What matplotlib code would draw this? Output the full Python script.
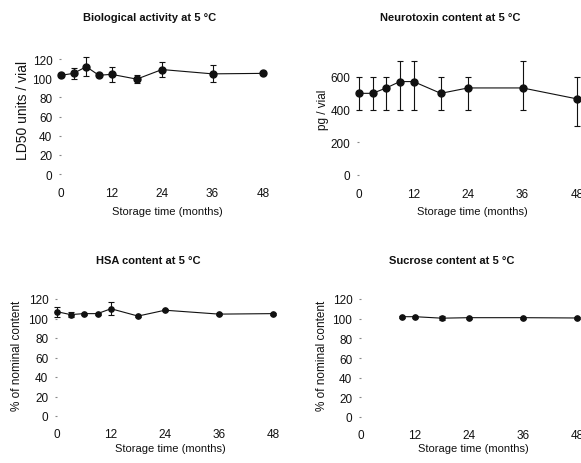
import matplotlib
matplotlib.use('Agg')
import matplotlib.pyplot as plt

plt.rcParams['font.family'] = ['Liberation Sans', 'DejaVu Sans']

# storage time (months)
bio_t = [0, 3, 6, 9, 12, 18, 24, 36, 48]
bio_val = [103, 105, 112, 103, 104, 99, 109, 104.5, 105]
bio_err = [2, 6, 10, 2, 8, 4, 8, 9, 2]

ntx_t = [0, 3, 6, 9, 12, 18, 24, 36, 48]
ntx_val = [500, 500, 533, 572, 572, 500, 533, 533, 466]
ntx_lo = [400, 400, 400, 400, 400, 400, 400, 400, 300]
ntx_hi = [600, 600, 600, 700, 700, 600, 600, 700, 600]

hsa_t = [0, 3, 6, 9, 12, 18, 24, 36, 48]
hsa_val = [107, 104, 105, 105, 110, 102.5, 108.5, 104.5, 105]
hsa_err = [5, 2.5, 1, 1, 6.5, 1, 1, 1, 1]

suc_t = [9, 12, 18, 24, 36, 48]
suc_val = [102, 102, 100.5, 101, 101, 100.7]
suc_err = [1, 1, 2, 1, 1, 1]

x_ticks = [0, 12, 24, 36, 48]

W, H = 581, 464
fig = plt.figure(figsize=(W / 100, H / 100), dpi=100)
ink = '#111111'


def px_axes(x0, x1, y0, y1):
    # x0/x1: pixel x of data 0 and 48; y0/y1: pixel y of ymin and ymax
    return fig.add_axes([x0 / W, 1 - y0 / H, (x1 - x0) / W, (y0 - y1) / H])


def ftext(x, y, s, **kw):
    fig.text(x / W, 1 - y / H, s, ha='center', va='center', color=ink, **kw)


def style(ax, ymax, yticks, xpad):
    for sp in ax.spines.values():
        sp.set_visible(False)
    ax.set_xlim(0, 48)
    ax.set_ylim(0, ymax)
    ax.set_xticks(x_ticks)
    ax.set_yticks(yticks)
    ax.tick_params(axis='x', length=0, pad=xpad, labelsize=8.5, labelcolor=ink)
    ax.tick_params(axis='y', length=1.2, width=0.8, color='#888888', pad=5,
                   labelsize=8.5, labelcolor=ink)


def draw(ax, t, v, yerr, ms):
    ax.errorbar(t, v, yerr=yerr, fmt='-o', color=ink, lw=0.8, ms=ms,
                elinewidth=0.8, capsize=2, capthick=0.8, clip_on=False)


# Biological activity
ax1 = px_axes(61, 263, 175, 60)
style(ax1, 120, [0, 20, 40, 60, 80, 100, 120], 9.5)
draw(ax1, bio_t, bio_val, bio_err, 5)
ftext(150, 18, 'Biological activity at 5 °C', fontsize=8, fontweight='bold')
ftext(167, 212, 'Storage time (months)', fontsize=8)
ftext(23, 110, 'LD50 units / vial', fontsize=10, rotation=90)

# Neurotoxin
ax2 = px_axes(359, 577, 176, 78)
style(ax2, 600, [0, 200, 400, 600], 9.5)
lo = [v - l for v, l in zip(ntx_val, ntx_lo)]
hi = [h - v for v, h in zip(ntx_val, ntx_hi)]
draw(ax2, ntx_t, ntx_val, [lo, hi], 5)
ftext(450, 18, 'Neurotoxin content at 5 °C', fontsize=8, fontweight='bold')
ftext(472, 212, 'Storage time (months)', fontsize=8)
ftext(323, 110, 'pg / vial', fontsize=8.5, rotation=90)

# HSA
ax3 = px_axes(57, 273, 417, 300)
style(ax3, 120, [0, 20, 40, 60, 80, 100, 120], 8.5)
draw(ax3, hsa_t, hsa_val, hsa_err, 3.8)
ftext(148, 261, 'HSA content at 5 °C', fontsize=8, fontweight='bold')
ftext(170, 449, 'Storage time (months)', fontsize=8)
ftext(17, 356, '% of nominal content', fontsize=8.5, rotation=90)

# Sucrose
ax4 = px_axes(361, 577, 418, 300)
style(ax4, 120, [0, 20, 40, 60, 80, 100, 120], 9)
draw(ax4, suc_t, suc_val, suc_err, 3.8)
ftext(452, 261, 'Sucrose content at 5 °C', fontsize=8, fontweight='bold')
ftext(473, 449, 'Storage time (months)', fontsize=8)
ftext(322, 356, '% of nominal content', fontsize=8.5, rotation=90)

fig.savefig('out.png', dpi=100)
